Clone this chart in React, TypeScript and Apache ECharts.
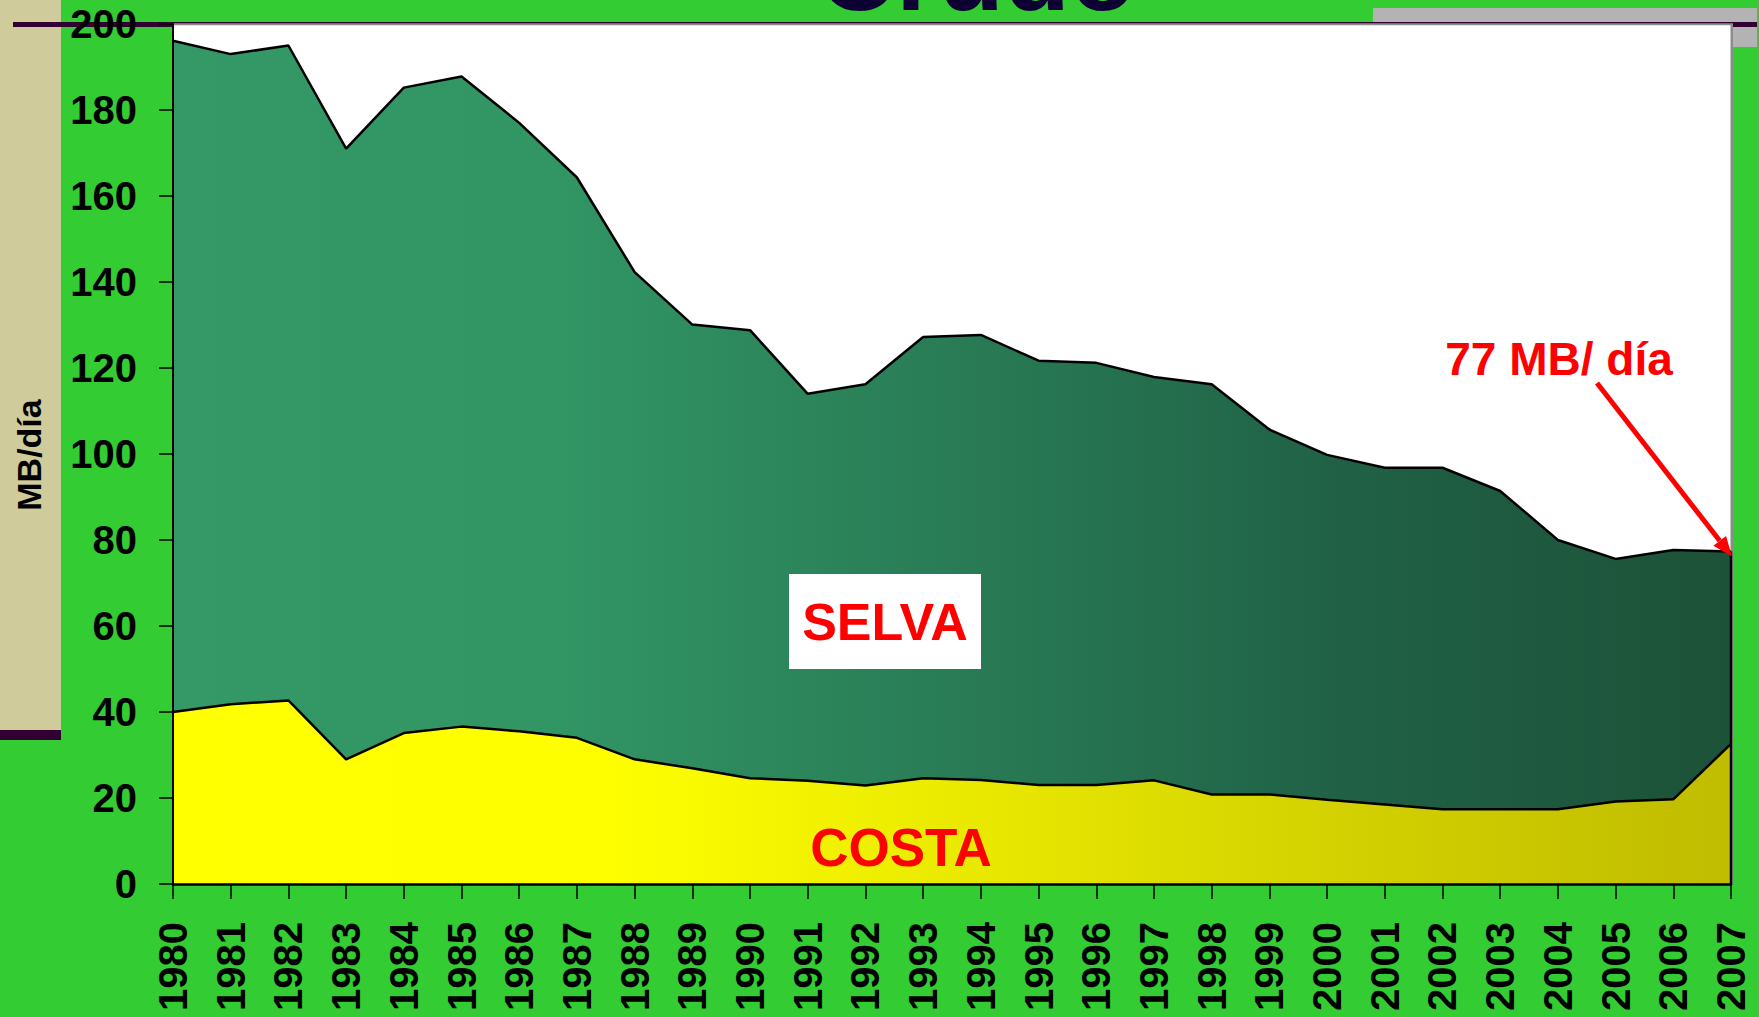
import { useEffect, useRef } from "react";
import * as echarts from "echarts";

const years = [
  "1980", "1981", "1982", "1983", "1984", "1985", "1986", "1987", "1988", "1989",
  "1990", "1991", "1992", "1993", "1994", "1995", "1996", "1997", "1998", "1999",
  "2000", "2001", "2002", "2003", "2004", "2005", "2006", "2007",
];

// COSTA (bottom layer), MB/día
const costa = [
  40.0, 41.8, 42.7, 29.0, 35.1, 36.6, 35.5, 34.0, 29.0, 26.9,
  24.6, 24.0, 22.9, 24.6, 24.2, 23.0, 23.0, 24.1, 20.8, 20.8,
  19.6, 18.5, 17.4, 17.4, 17.4, 19.2, 19.7, 32.6,
];

// SELVA (stacked on top of COSTA), MB/día
const selva = [
  156.1, 151.2, 152.3, 142.0, 150.1, 151.2, 141.5, 130.3, 113.3, 103.2,
  104.2, 90.0, 93.3, 102.6, 103.5, 98.7, 98.2, 93.8, 95.4, 84.9,
  80.2, 78.3, 79.4, 74.0, 62.6, 56.4, 58.0, 44.7,
];

const yMin = 0;
const yMax = 200;
const yStep = 20;

const FONT = "'Liberation Sans', Arial, sans-serif";

export default function App() {
  const ref = useRef<HTMLDivElement>(null);

  useEffect(() => {
    document.body.style.margin = "0";
    const chart = echarts.init(ref.current!, null, { renderer: "svg" });

    const axisLabel = {
      color: "#000",
      fontWeight: "bold",
      fontSize: 40,
      fontFamily: FONT,
    };

    chart.setOption({
      animation: false,
      backgroundColor: "#33CC33",
      grid: { left: 173, top: 24, right: 28, bottom: 133, containLabel: false },
      xAxis: {
        type: "category",
        data: years,
        boundaryGap: false,
        z: 10,
        axisLine: { show: true, lineStyle: { color: "#000", width: 2.5 } },
        axisTick: { show: true, length: 15, lineStyle: { color: "#000", width: 1.5 } },
        axisLabel: { ...axisLabel, rotate: 90, margin: 38, interval: 0 },
        splitLine: { show: false },
      },
      yAxis: {
        type: "value",
        min: yMin,
        max: yMax,
        interval: yStep,
        z: 10,
        axisLine: { show: true, lineStyle: { color: "#000", width: 2 } },
        axisTick: { show: true, length: 14, lineStyle: { color: "#000", width: 1.5 } },
        axisLabel: { ...axisLabel, margin: 36 },
        splitLine: { show: false },
      },
      series: [
        {
          name: "COSTA",
          type: "line",
          stack: "total",
          data: costa,
          symbol: "none",
          z: 4,
          lineStyle: { color: "#000", width: 2.5 },
          areaStyle: {
            opacity: 1,
            color: new echarts.graphic.LinearGradient(0, 0, 1, 0, [
              { offset: 0, color: "#FFFF00" },
              { offset: 0.28, color: "#FEFE00" },
              { offset: 0.5, color: "#EAEA00" },
              { offset: 0.75, color: "#D3D100" },
              { offset: 1, color: "#C0BC00" },
            ]),
          },
        },
        {
          name: "SELVA",
          type: "line",
          stack: "total",
          data: selva,
          symbol: "none",
          z: 3,
          lineStyle: { color: "#000", width: 2.5 },
          areaStyle: {
            opacity: 1,
            color: new echarts.graphic.LinearGradient(0, 0, 1, 0, [
              { offset: 0, color: "#349966" },
              { offset: 0.25, color: "#319564" },
              { offset: 0.5, color: "#297C56" },
              { offset: 0.75, color: "#206146" },
              { offset: 1, color: "#1C5238" },
            ]),
          },
        },
      ],
    });

    const last = years.length - 1;
    const top = chart.convertToPixel({ xAxisIndex: 0, yAxisIndex: 0 }, [last, costa[last] + selva[last]]) as number[];
    const bottom = chart.convertToPixel({ xAxisIndex: 0, yAxisIndex: 0 }, [last, 0]) as number[];

    const start = [1597, 383];
    const tip = [top[0] + 1, top[1] + 5];
    const dx = tip[0] - start[0];
    const dy = tip[1] - start[1];
    const len = Math.sqrt(dx * dx + dy * dy);
    const ux = dx / len;
    const uy = dy / len;
    const nx = -uy;
    const ny = ux;
    const hl = 20;
    const hw = 8;
    const base = [tip[0] - ux * hl, tip[1] - uy * hl];

    chart.setOption({
      graphic: {
        elements: [
          { type: "rect", z: -20, shape: { x: 0, y: 0, width: 61, height: 730 }, style: { fill: "#CFCB9B" } },
          { type: "rect", z: -20, shape: { x: 0, y: 730, width: 61, height: 10 }, style: { fill: "#330033" } },
          { type: "rect", z: -20, shape: { x: 1373, y: 8, width: 384, height: 14 }, style: { fill: "#B3B3B3" } },
          { type: "rect", z: -20, shape: { x: 13, y: 22, width: 1744, height: 5 }, style: { fill: "#330033" } },
          { type: "rect", z: -19, shape: { x: 1733, y: 27, width: 24, height: 20 }, style: { fill: "#B3B3B3" } },
          { type: "rect", z: -18, shape: { x: 173, y: 23.3, width: 1560, height: 861 }, style: { fill: "#8C8C8C" } },
          { type: "rect", z: -17, shape: { x: 173, y: 25.3, width: 1557.5, height: 858 }, style: { fill: "#FFFFFF" } },
          {
            type: "text", z: 50, x: 977, y: -28,
            style: { text: "Crudo", fontSize: 108, fontWeight: "bold", fontFamily: FONT, fill: "#0D0033", align: "center", verticalAlign: "middle" },
          },
          {
            type: "text", z: 50, x: 29, y: 455, rotation: Math.PI / 2,
            style: { text: "MB/día", fontSize: 34, fontWeight: "bold", fontFamily: FONT, fill: "#000", align: "center", verticalAlign: "middle" },
          },
          {
            type: "line", z: 40,
            shape: { x1: bottom[0], y1: top[1], x2: bottom[0], y2: bottom[1] },
            style: { stroke: "#000", lineWidth: 2.5 },
          },
          { type: "rect", z: 45, shape: { x: 789, y: 574, width: 192, height: 95 }, style: { fill: "#FFFFFF" } },
          {
            type: "text", z: 50, x: 885, y: 622,
            style: { text: "SELVA", fontSize: 52, fontWeight: "bold", fontFamily: FONT, fill: "#FF0000", align: "center", verticalAlign: "middle" },
          },
          {
            type: "text", z: 50, x: 901, y: 847,
            style: { text: "COSTA", fontSize: 53, fontWeight: "bold", fontFamily: FONT, fill: "#FF0000", align: "center", verticalAlign: "middle" },
          },
          {
            type: "text", z: 50, x: 1559, y: 359,
            style: { text: "77 MB/ día", fontSize: 46, fontWeight: "bold", fontFamily: FONT, fill: "#FF0000", align: "center", verticalAlign: "middle" },
          },
          {
            type: "line", z: 50,
            shape: { x1: start[0], y1: start[1], x2: base[0], y2: base[1] },
            style: { stroke: "#FF0000", lineWidth: 5 },
          },
          {
            type: "polygon", z: 51,
            shape: {
              points: [
                [tip[0], tip[1]],
                [base[0] + nx * hw, base[1] + ny * hw],
                [base[0] - nx * hw, base[1] - ny * hw],
              ],
            },
            style: { fill: "#FF0000" },
          },
        ],
      },
    });

    return () => chart.dispose();
  }, []);

  return <div ref={ref} style={{ width: 1759, height: 1017, background: "#33CC33" }} />;
}
